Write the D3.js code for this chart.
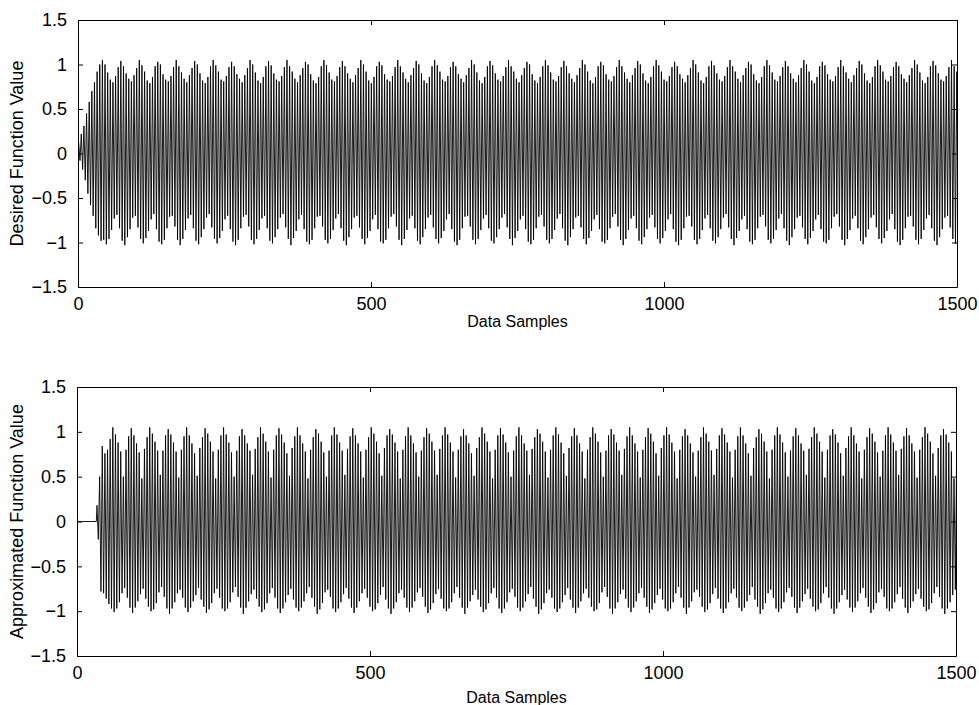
<!DOCTYPE html>
<html>
<head>
<meta charset="utf-8">
<script src="https://cdn.jsdelivr.net/npm/d3@7"></script>
<style>
  body { margin: 0; background: #fff; }
  svg { display: block; font-family: "Liberation Sans", Arial, sans-serif; }
  .axis path, .axis line { stroke: #000; }
</style>
</head>
<body>
<div id="canvas"></div>
<script>
var xTicks = [0, 500, 1000, 1500];
var yTicks = [-1.5, -1, -0.5, 0, 0.5, 1, 1.5];

// samples per oscillation cycle (~7 cycles per 31.5-sample beat)
var cycleLen = 4.5;

// desired signal: peak and trough value of each cycle (one beat per group of 7)
var desiredPeaks = [
  0.12,0.22,0.31,0.45,0.58,0.70,0.80,0.92,1.00,
  1.05,1.00,0.91,0.83,0.80,0.87,0.97,  1.04,0.98,0.90,0.84,0.81,0.88,0.96,
  1.05,0.99,0.92,0.82,0.79,0.86,0.98,  1.03,1.00,0.89,0.83,0.81,0.87,0.97,
  1.05,0.98,0.91,0.84,0.80,0.88,0.96,  1.04,1.00,0.90,0.82,0.79,0.86,0.98,
  1.05,0.99,0.92,0.83,0.81,0.87,0.97,  1.03,0.98,0.89,0.84,0.80,0.88,0.96,
  1.05,1.00,0.91,0.82,0.79,0.86,0.98,  1.04,0.99,0.90,0.83,0.81,0.87,0.97,
  1.05,0.98,0.92,0.84,0.80,0.88,0.96,  1.03,1.00,0.89,0.82,0.79,0.86,0.98,
  1.05,0.99,0.91,0.83,0.81,0.87,0.97,  1.04,0.98,0.90,0.84,0.80,0.88,0.96,
  1.05,1.00,0.92,0.82,0.79,0.86,0.98,  1.03,0.99,0.89,0.83,0.81,0.87,0.97,
  1.05,0.98,0.91,0.84,0.80,0.88,0.96,  1.04,1.00,0.90,0.82,0.79,0.86,0.98,
  1.05,0.99,0.92,0.83,0.81,0.87,0.97,  1.03,0.98,0.89,0.84,0.80,0.88,0.96,
  1.05,1.00,0.91,0.82,0.79,0.86,0.98,  1.04,0.99,0.90,0.83,0.81,0.87,0.97,
  1.05,0.98,0.92,0.84,0.80,0.88,0.96,  1.03,1.00,0.89,0.82,0.79,0.86,0.98,
  1.05,0.99,0.91,0.83,0.81,0.87,0.97,  1.04,0.98,0.90,0.84,0.80,0.88,0.96,
  1.05,1.00,0.92,0.82,0.79,0.86,0.98,  1.03,0.99,0.89,0.83,0.81,0.87,0.97,
  1.05,0.98,0.91,0.84,0.80,0.88,0.96,  1.04,1.00,0.90,0.82,0.79,0.86,0.98,
  1.05,0.99,0.92,0.83,0.81,0.87,0.97,  1.03,0.98,0.89,0.84,0.80,0.88,0.96,
  1.05,1.00,0.91,0.82,0.79,0.86,0.98,  1.04,0.99,0.90,0.83,0.81,0.87,0.97,
  1.05,0.98,0.92,0.84,0.80,0.88,0.96,  1.03,1.00,0.89,0.82,0.79,0.86,0.98,
  1.05,0.99,0.91,0.83,0.81,0.87,0.97,  1.04,0.98,0.90,0.84,0.80,0.88,0.96,
  1.05,1.00,0.92,0.82,0.79,0.86,0.98,  1.03,0.99,0.89,0.83,0.81,0.87,0.97,
  1.05,0.98,0.91,0.84,0.80,0.88,0.96,  1.04,1.00,0.90,0.82,0.79,0.86,0.98,
  1.05,0.99,0.92,0.83,0.81,0.87,0.97,  1.03,0.98,0.89,0.84,0.80,0.88,0.96,
  1.05,1.00,0.91,0.82,0.79,0.86,0.98,  1.04,0.99,0.90,0.83,0.81,0.87,0.97,
  1.05,0.98,0.92,0.84,0.80,0.88,0.96,  1.03,1.00,0.89,0.82,0.79,0.86,0.98,
  1.04,0.99,0.90,0.83,0.81,0.87,0.97,  1.05,0.98,0.92,0.84,0.80,0.88,0.96,
  1.03,1.00,0.91,0.82,0.79,0.86,0.98,  1.05,0.99,0.89,0.83,0.81,0.87,0.97
];
var desiredTroughs = [
  -0.08,-0.18,-0.30,-0.45,-0.58,-0.70,-0.84,-0.92,-0.98,
  -0.97,-1.02,-0.96,-0.86,-0.73,-0.69,-0.84,  -0.98,-1.03,-0.94,-0.85,-0.72,-0.70,-0.83,
  -0.96,-1.01,-0.95,-0.87,-0.74,-0.68,-0.85,  -0.99,-1.02,-0.97,-0.84,-0.71,-0.70,-0.82,
  -0.97,-1.03,-0.96,-0.86,-0.73,-0.69,-0.84,  -0.98,-1.02,-0.94,-0.85,-0.72,-0.68,-0.83,
  -0.96,-1.01,-0.95,-0.87,-0.74,-0.70,-0.85,  -0.99,-1.03,-0.97,-0.84,-0.71,-0.69,-0.82,
  -0.97,-1.02,-0.96,-0.86,-0.73,-0.70,-0.84,  -0.98,-1.01,-0.94,-0.85,-0.72,-0.68,-0.83,
  -0.96,-1.03,-0.95,-0.87,-0.74,-0.69,-0.85,  -0.99,-1.02,-0.97,-0.84,-0.71,-0.70,-0.82,
  -0.97,-1.01,-0.96,-0.86,-0.73,-0.68,-0.84,  -0.98,-1.03,-0.94,-0.85,-0.72,-0.70,-0.83,
  -0.96,-1.02,-0.95,-0.87,-0.74,-0.69,-0.85,  -0.99,-1.01,-0.97,-0.84,-0.71,-0.68,-0.82,
  -0.97,-1.03,-0.96,-0.86,-0.73,-0.70,-0.84,  -0.98,-1.02,-0.94,-0.85,-0.72,-0.69,-0.83,
  -0.96,-1.01,-0.95,-0.87,-0.74,-0.68,-0.85,  -0.99,-1.03,-0.97,-0.84,-0.71,-0.70,-0.82,
  -0.97,-1.02,-0.96,-0.86,-0.73,-0.69,-0.84,  -0.98,-1.01,-0.94,-0.85,-0.72,-0.68,-0.83,
  -0.96,-1.03,-0.95,-0.87,-0.74,-0.70,-0.85,  -0.99,-1.02,-0.97,-0.84,-0.71,-0.69,-0.82,
  -0.97,-1.01,-0.96,-0.86,-0.73,-0.68,-0.84,  -0.98,-1.03,-0.94,-0.85,-0.72,-0.70,-0.83,
  -0.96,-1.02,-0.95,-0.87,-0.74,-0.69,-0.85,  -0.99,-1.01,-0.97,-0.84,-0.71,-0.68,-0.82,
  -0.97,-1.03,-0.96,-0.86,-0.73,-0.70,-0.84,  -0.98,-1.02,-0.94,-0.85,-0.72,-0.69,-0.83,
  -0.96,-1.01,-0.95,-0.87,-0.74,-0.68,-0.85,  -0.99,-1.03,-0.97,-0.84,-0.71,-0.70,-0.82,
  -0.97,-1.02,-0.96,-0.86,-0.73,-0.69,-0.84,  -0.98,-1.01,-0.94,-0.85,-0.72,-0.68,-0.83,
  -0.96,-1.03,-0.95,-0.87,-0.74,-0.70,-0.85,  -0.99,-1.02,-0.97,-0.84,-0.71,-0.69,-0.82,
  -0.97,-1.01,-0.96,-0.86,-0.73,-0.68,-0.84,  -0.98,-1.03,-0.94,-0.85,-0.72,-0.70,-0.83,
  -0.96,-1.02,-0.95,-0.87,-0.74,-0.69,-0.85,  -0.99,-1.01,-0.97,-0.84,-0.71,-0.68,-0.82,
  -0.97,-1.03,-0.96,-0.86,-0.73,-0.70,-0.84,  -0.98,-1.02,-0.94,-0.85,-0.72,-0.69,-0.83,
  -0.96,-1.01,-0.95,-0.87,-0.74,-0.68,-0.85,  -0.99,-1.03,-0.97,-0.84,-0.71,-0.70,-0.82,
  -0.97,-1.02,-0.96,-0.86,-0.73,-0.69,-0.84,  -0.98,-1.03,-0.94,-0.85,-0.72,-0.70,-0.83,
  -0.96,-1.01,-0.95,-0.87,-0.74,-0.68,-0.85,  -0.99,-1.02,-0.97,-0.84,-0.71,-0.70,-0.82
];

// approximated signal: flat zero until the onset sample, then peak / trough per cycle
var approxOnset = 33;
var approxPeaks = [
  0.18,0.50,0.84,0.76,0.80,0.92,
  1.05,0.97,0.88,0.78,0.50,0.80,0.95,  1.04,0.96,0.87,0.77,0.48,0.81,0.94,
  1.05,0.98,0.89,0.79,0.52,0.79,0.96,  1.03,0.97,0.88,0.78,0.49,0.80,0.95,
  1.05,0.96,0.87,0.76,0.51,0.82,0.94,  1.04,0.98,0.89,0.78,0.48,0.80,0.96,
  1.05,0.97,0.88,0.77,0.50,0.79,0.95,  1.03,0.96,0.87,0.79,0.52,0.81,0.94,
  1.05,0.98,0.89,0.78,0.49,0.80,0.96,  1.04,0.97,0.88,0.76,0.51,0.82,0.95,
  1.05,0.96,0.87,0.78,0.48,0.80,0.94,  1.03,0.98,0.89,0.77,0.50,0.79,0.96,
  1.05,0.97,0.88,0.79,0.52,0.81,0.95,  1.04,0.96,0.87,0.78,0.49,0.80,0.94,
  1.05,0.98,0.89,0.76,0.51,0.82,0.96,  1.03,0.97,0.88,0.78,0.48,0.80,0.95,
  1.05,0.96,0.87,0.77,0.50,0.79,0.94,  1.04,0.98,0.89,0.79,0.52,0.81,0.96,
  1.05,0.97,0.88,0.78,0.49,0.80,0.95,  1.03,0.96,0.87,0.76,0.51,0.82,0.94,
  1.05,0.98,0.89,0.78,0.48,0.80,0.96,  1.04,0.97,0.88,0.77,0.50,0.79,0.95,
  1.05,0.96,0.87,0.79,0.52,0.81,0.94,  1.03,0.98,0.89,0.78,0.49,0.80,0.96,
  1.05,0.97,0.88,0.76,0.51,0.82,0.95,  1.04,0.96,0.87,0.78,0.48,0.80,0.94,
  1.05,0.98,0.89,0.77,0.50,0.79,0.96,  1.03,0.97,0.88,0.79,0.52,0.81,0.95,
  1.05,0.96,0.87,0.78,0.49,0.80,0.94,  1.04,0.98,0.89,0.76,0.51,0.82,0.96,
  1.05,0.97,0.88,0.78,0.48,0.80,0.95,  1.03,0.96,0.87,0.77,0.50,0.79,0.94,
  1.05,0.98,0.89,0.79,0.52,0.81,0.96,  1.04,0.97,0.88,0.78,0.49,0.80,0.95,
  1.05,0.96,0.87,0.76,0.51,0.82,0.94,  1.03,0.98,0.89,0.78,0.48,0.80,0.96,
  1.05,0.97,0.88,0.77,0.50,0.79,0.95,  1.04,0.96,0.87,0.79,0.52,0.81,0.94,
  1.05,0.98,0.89,0.78,0.49,0.80,0.96,  1.03,0.97,0.88,0.76,0.51,0.82,0.95,
  1.05,0.96,0.87,0.78,0.48,0.80,0.94,  1.04,0.98,0.89,0.77,0.50,0.79,0.96,
  1.05,0.97,0.88,0.79,0.52,0.81,0.95,
  1.04,0.96,0.87,0.78,0.49,0.80,0.94,  1.05,0.98,0.89,0.76,0.51,0.82,0.96,
  1.03,0.97,0.88,0.78,0.48,0.80,0.95,  1.05,0.96,0.87,0.77,0.50,0.79,0.94
];
var approxTroughs = [
  -0.20,-0.78,-0.80,-0.86,-0.92,-0.97,
  -1.01,-0.97,-0.90,-0.80,-0.74,-0.85,-0.96,  -1.02,-0.96,-0.89,-0.81,-0.75,-0.86,-0.95,
  -1.00,-0.98,-0.91,-0.79,-0.73,-0.84,-0.97,  -1.03,-0.97,-0.90,-0.80,-0.76,-0.85,-0.96,
  -1.01,-0.96,-0.89,-0.82,-0.74,-0.87,-0.95,  -1.02,-0.98,-0.91,-0.80,-0.75,-0.85,-0.97,
  -1.00,-0.97,-0.90,-0.79,-0.73,-0.84,-0.96,  -1.03,-0.96,-0.89,-0.81,-0.76,-0.86,-0.95,
  -1.01,-0.98,-0.91,-0.80,-0.74,-0.85,-0.97,  -1.02,-0.97,-0.90,-0.82,-0.75,-0.87,-0.96,
  -1.00,-0.96,-0.89,-0.80,-0.73,-0.85,-0.95,  -1.03,-0.98,-0.91,-0.79,-0.76,-0.84,-0.97,
  -1.01,-0.97,-0.90,-0.81,-0.74,-0.86,-0.96,  -1.02,-0.96,-0.89,-0.80,-0.75,-0.85,-0.95,
  -1.00,-0.98,-0.91,-0.82,-0.73,-0.87,-0.97,  -1.03,-0.97,-0.90,-0.80,-0.76,-0.85,-0.96,
  -1.01,-0.96,-0.89,-0.79,-0.74,-0.84,-0.95,  -1.02,-0.98,-0.91,-0.81,-0.75,-0.86,-0.97,
  -1.00,-0.97,-0.90,-0.80,-0.73,-0.85,-0.96,  -1.03,-0.96,-0.89,-0.82,-0.76,-0.87,-0.95,
  -1.01,-0.98,-0.91,-0.80,-0.74,-0.85,-0.97,  -1.02,-0.97,-0.90,-0.79,-0.75,-0.84,-0.96,
  -1.00,-0.96,-0.89,-0.81,-0.73,-0.86,-0.95,  -1.03,-0.98,-0.91,-0.80,-0.76,-0.85,-0.97,
  -1.01,-0.97,-0.90,-0.82,-0.74,-0.87,-0.96,  -1.02,-0.96,-0.89,-0.80,-0.75,-0.85,-0.95,
  -1.00,-0.98,-0.91,-0.79,-0.73,-0.84,-0.97,  -1.03,-0.97,-0.90,-0.81,-0.76,-0.86,-0.96,
  -1.01,-0.96,-0.89,-0.80,-0.74,-0.85,-0.95,  -1.02,-0.98,-0.91,-0.82,-0.75,-0.87,-0.97,
  -1.00,-0.97,-0.90,-0.80,-0.73,-0.85,-0.96,  -1.03,-0.96,-0.89,-0.79,-0.76,-0.84,-0.95,
  -1.01,-0.98,-0.91,-0.81,-0.74,-0.86,-0.97,  -1.02,-0.97,-0.90,-0.80,-0.75,-0.85,-0.96,
  -1.00,-0.96,-0.89,-0.82,-0.73,-0.87,-0.95,  -1.03,-0.98,-0.91,-0.80,-0.76,-0.85,-0.97,
  -1.01,-0.97,-0.90,-0.79,-0.74,-0.84,-0.96,  -1.02,-0.96,-0.89,-0.81,-0.75,-0.86,-0.95,
  -1.00,-0.98,-0.91,-0.80,-0.73,-0.85,-0.97,  -1.03,-0.97,-0.90,-0.82,-0.76,-0.87,-0.96,
  -1.01,-0.96,-0.89,-0.80,-0.74,-0.85,-0.95,  -1.02,-0.98,-0.91,-0.79,-0.75,-0.84,-0.97,
  -1.00,-0.97,-0.90,-0.81,-0.73,-0.86,-0.96,
  -1.02,-0.96,-0.89,-0.81,-0.75,-0.86,-0.95,  -1.00,-0.98,-0.91,-0.80,-0.73,-0.84,-0.97,
  -1.03,-0.97,-0.90,-0.82,-0.76,-0.87,-0.96,  -1.01,-0.96,-0.89,-0.80,-0.74,-0.85,-0.95
];

var panels = [
  {peaks: desiredPeaks, troughs: desiredTroughs, start: 0, lead: false,
   ylabel: 'Desired Function Value', m: {t:20, l:78}, w: 879, h: 267, xlabY: 327},
  {peaks: approxPeaks, troughs: approxTroughs, start: approxOnset, lead: true,
   ylabel: 'Approximated Function Value', m: {t:387, l:77}, w: 879, h: 269, xlabY: 703}
];

var W = 979, H = 705;
var svg = d3.select('#canvas').append('svg')
  .attr('width', W)
  .attr('height', H);

panels.forEach(function(p, k) {
  var x = d3.scaleLinear().domain([0, 1500]).range([0, p.w]);
  var y = d3.scaleLinear().domain([-1.5, 1.5]).range([p.h, 0]);

  var g = svg.append('g').attr('transform', 'translate(' + p.m.l + ',' + p.m.t + ')');

  g.append('clipPath').attr('id', 'clip' + k)
    .append('rect').attr('width', p.w).attr('height', p.h);

  // extrema sequence: peak, then trough half a cycle later
  var pts = [];
  pts.push([0, 0]);
  if (p.lead) pts.push([p.start, 0]);
  var n = Math.min(p.peaks.length, p.troughs.length);
  for (var i = 0; i < n; i++) {
    var s = p.start + (i + 0.25) * cycleLen;
    if (s > 1500 + cycleLen) break;
    pts.push([s, p.peaks[i]]);
    pts.push([s + cycleLen / 2, p.troughs[i]]);
  }

  var line = d3.line()
    .x(function(d) { return x(d[0]); })
    .y(function(d) { return y(d[1]); });

  g.append('path')
    .datum(pts)
    .attr('clip-path', 'url(#clip' + k + ')')
    .attr('d', line)
    .attr('fill', 'none')
    .attr('stroke', '#000')
    .attr('stroke-width', 0.9);

  // matlab style: ticks inside, box all round
  var axB = d3.axisBottom(x).tickValues(xTicks).tickSizeInner(-5).tickSizeOuter(0).tickPadding(10).tickFormat(d3.format('d'));
  var axT = d3.axisTop(x).tickValues(xTicks).tickSizeInner(-5).tickSizeOuter(0).tickFormat('');
  var axL = d3.axisLeft(y).tickValues(yTicks).tickSizeInner(-5).tickSizeOuter(0).tickPadding(11).tickFormat(d3.format('~g'));
  var axR = d3.axisRight(y).tickValues(yTicks).tickSizeInner(-5).tickSizeOuter(0).tickFormat('');

  g.append('g').attr('class', 'axis').attr('transform', 'translate(0,' + p.h + ')').call(axB);
  g.append('g').attr('class', 'axis').call(axT);
  g.append('g').attr('class', 'axis').call(axL);
  g.append('g').attr('class', 'axis').attr('transform', 'translate(' + p.w + ',0)').call(axR);

  g.selectAll('.axis text')
    .attr('fill', '#000')
    .style('font-family', '"Liberation Sans", Arial, sans-serif')
    .style('font-size', '18px');

  svg.append('text')
    .attr('x', p.m.l + p.w / 2)
    .attr('y', p.xlabY)
    .attr('text-anchor', 'middle')
    .style('font-size', '16px')
    .text('Data Samples');

  svg.append('text')
    .attr('transform', 'translate(17,' + (p.m.t + p.h / 2) + ') rotate(-90)')
    .attr('text-anchor', 'middle')
    .attr('dy', '0.35em')
    .style('font-size', '18px')
    .text(p.ylabel);
});
</script>
</body>
</html>
